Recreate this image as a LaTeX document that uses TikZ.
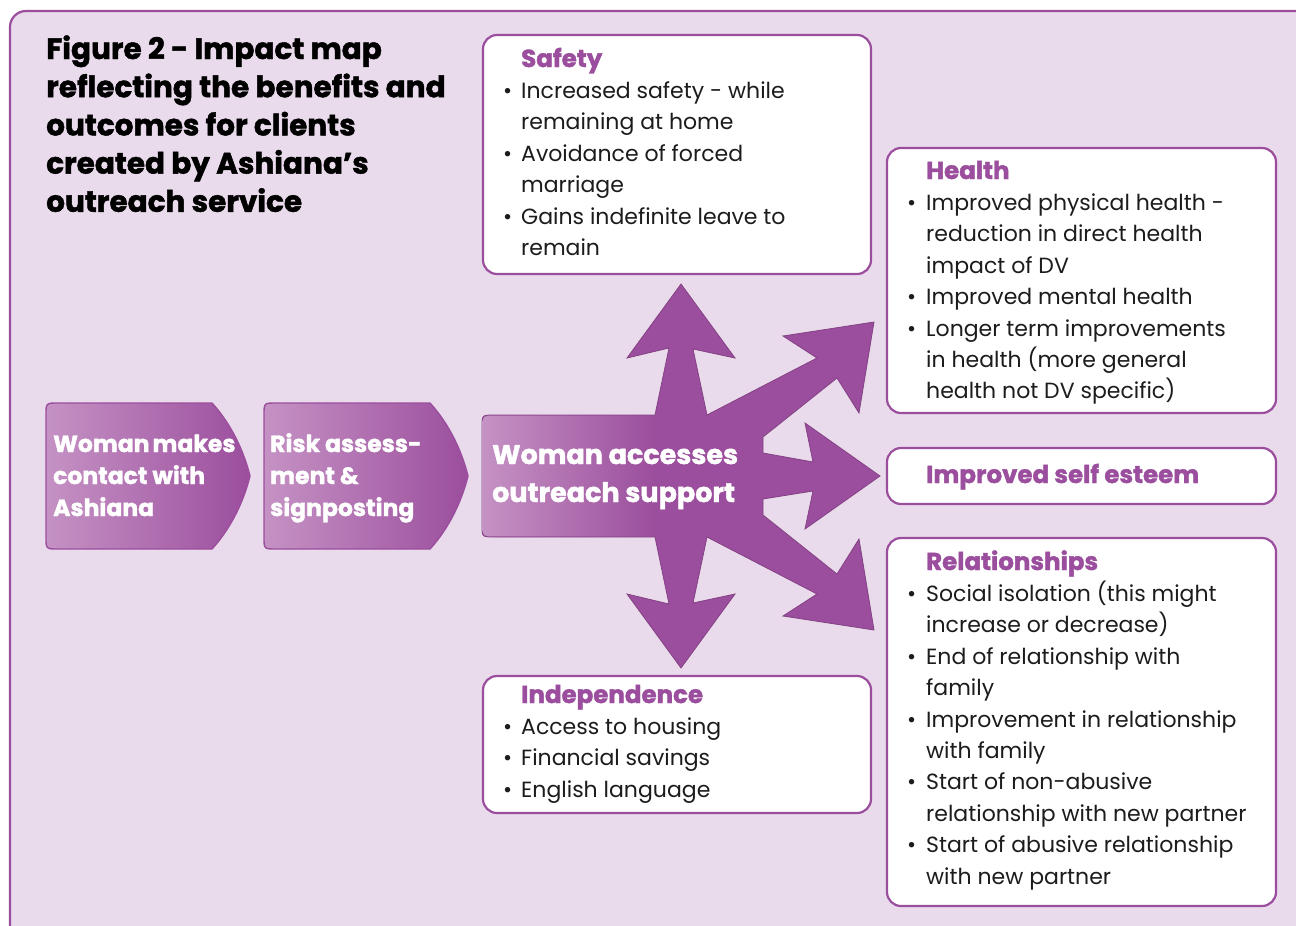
\documentclass[tikz,border=0pt]{standalone}
\usepackage{fontspec}
\setmainfont{Poppins}
\newfontfamily\heavy[BoldFeatures={FakeBold=1.6}]{Poppins}
\definecolor{bgc}{HTML}{E9DBEB}
\definecolor{purp}{HTML}{9B4E9D}
\definecolor{lightp}{HTML}{C592C4}
\definecolor{txt}{HTML}{1C1C1C}
\newcommand\hd[1]{{\fontsize{24.5}{31.4}\selectfont\heavy\bfseries\color{purp}#1}}
\begin{document}
\begin{tikzpicture}[x=1pt,y=-1pt,
  card/.style={draw=purp, line width=2.2, fill=white, rounded corners=14},
  body/.style={anchor=base west, inner sep=0, text=txt, font=\fontsize{22}{31.4}\selectfont},
  ttl/.style={anchor=base west, inner sep=0, text=black, font=\fontsize{29.5}{38.2}\selectfont\heavy\bfseries},
  wht/.style={anchor=base west, inner sep=0, text=white, font=\fontsize{23.5}{32}\selectfont\heavy\bfseries},
  chev/.style={left color=lightp, right color=purp, draw=purp, line width=1.4}
]
\useasboundingbox (0,0) rectangle (1296,926);
\fill[white] (0,0) rectangle (1296,926);
\draw[draw=purp, fill=bgc, line width=2.2, rounded corners=16] (10,11) rectangle (1340,970);

% title
\node[ttl] (title) at (46,59) {\begin{tabular}[t]{@{}l@{}}Figure 2 - Impact map\\ reflecting the benefits and\\ outcomes for clients\\ created by Ashiana’s\\ outreach service\end{tabular}};

% chevrons
\path[chev] (58,403) -- (212,403) .. controls (232,425) and (244,452) .. (250,476) .. controls (244,500) and (232,527) .. (212,549) -- (58,549) .. controls (46,549) .. (46,537) -- (46,415) .. controls (46,403) .. (58,403) -- cycle;
\node[wht] (c1) at (53,452) {\begin{tabular}[t]{@{}l@{}}Woman\hspace{-2pt} makes\\ contact with\\ Ashiana\end{tabular}};
\path[chev] (276,403) -- (430,403) .. controls (450,425) and (462,452) .. (468,476) .. controls (462,500) and (450,527) .. (430,549) -- (276,549) .. controls (264,549) .. (264,537) -- (264,415) .. controls (264,403) .. (276,403) -- cycle;
\node[wht] (c2) at (270,452) {\begin{tabular}[t]{@{}l@{}}Risk assess-\\ ment \&\\ signposting\end{tabular}};

% hub
\path[fill=purp, draw=purp!85!black, line width=0.8] (655,415) -- (669,348) -- (627,358) -- (681,284) -- (735,358) -- (693,349) -- (707,415) -- (817,358) -- (783,336) -- (874,322) -- (859,413) -- (837,378) -- (763,437) -- (763,453) -- (813,462) -- (805,423) -- (880,476) -- (805,529) -- (813,491) -- (763,499) -- (763,515) -- (837,574) -- (859,539) -- (874,630) -- (783,616) -- (817,594) -- (707,537) -- (693,603) -- (735,594) -- (681,668) -- (627,594) -- (669,604) -- (655,537) -- (494,537) .. controls (482,537) .. (482,525) -- (482,427) .. controls (482,415) .. (494,415) -- cycle;
\shade[left color=lightp, right color=purp] (655,415.6) -- (494,415.6) .. controls (482.6,415.6) .. (482.6,427) -- (482.6,525) .. controls (482.6,536.4) .. (494,536.4) -- (655,536.4) -- cycle;
\node[wht, font=\fontsize{27}{38}\selectfont\heavy\bfseries] (hub) at (492,464) {\begin{tabular}[t]{@{}l@{}}Woman accesses\\ outreach support\end{tabular}};

% cards
\path[card] (483,35) rectangle (871,274);
\node[body] (safety) at (503,67) {\begin{tabular}[t]{@{}p{18pt}@{}l@{}}
 & \hd{Safety}\\
\textbullet & Increased safety - while\\
 & remaining at home\\
\textbullet & Avoidance of forced\\
 & marriage\\
\textbullet & Gains indefinite leave to\\
 & remain\end{tabular}};

\path[card] (887,148) rectangle (1276,413);
\node[body] (health) at (907,179) {\begin{tabular}[t]{@{}p{19pt}@{}l@{}}
 & \hd{Health}\\
\textbullet & Improved physical health -\\
 & reduction in direct health\\
 & impact of DV\\
\textbullet & Improved mental health\\
\textbullet & Longer term improvements\\
 & in health (more general\\
 & health not DV specific)\end{tabular}};

\path[card] (887,448) rectangle (1276,504);
\node[body] (esteem) at (926,483) {\hd{Improved self esteem}};

\path[card] (887,538) rectangle (1276,906);
\node[body] (rel) at (907,570) {\begin{tabular}[t]{@{}p{19pt}@{}l@{}}
 & \hd{Relationships}\\
\textbullet & Social isolation (this might\\
 & increase or decrease)\\
\textbullet & End of relationship with\\
 & family\\
\textbullet & Improvement in relationship\\
 & with family\\
\textbullet & Start of non-abusive\\
 & relationship with new partner\\
\textbullet & Start of abusive relationship\\
 & with new partner\end{tabular}};

\path[card] (483,676) rectangle (871,813);
\node[body] (indep) at (503,703) {\begin{tabular}[t]{@{}p{18pt}@{}l@{}}
 & \hd{Independence}\\
\textbullet & Access to housing\\
\textbullet & Financial savings\\
\textbullet & English language\end{tabular}};
\end{tikzpicture}
\end{document}
